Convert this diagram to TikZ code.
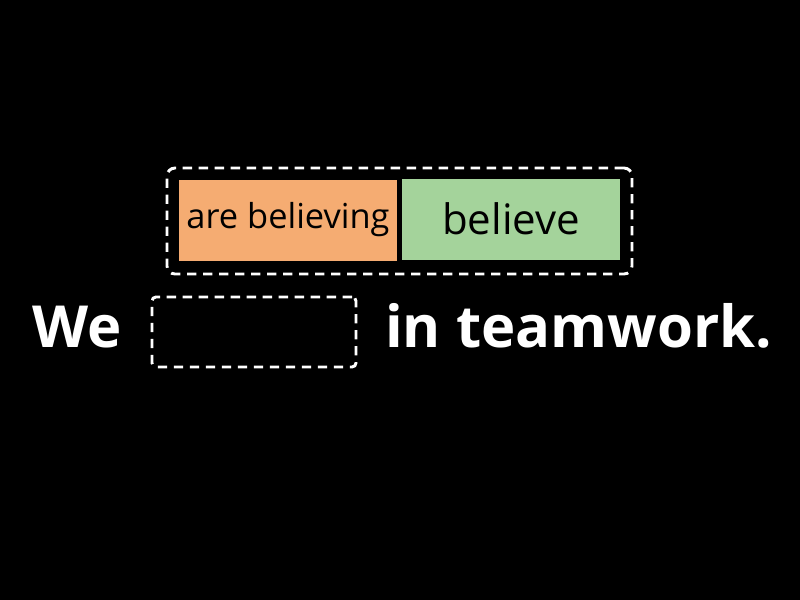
\documentclass[tikz,border=0pt]{standalone}
\usepackage{fontspec}
\setmainfont{Open Sans}
\usetikzlibrary{positioning}

\begin{document}
\begin{tikzpicture}[x=0.75pt, y=-0.75pt]
	% Define styles
	\tikzset{
		card/.style={rectangle, inner sep=0pt, minimum width=163.5pt, minimum height=60.75pt, text=black},
		frame/.style={draw=white, line width=2.2pt, dash pattern=on 7pt off 5pt, rounded corners=6pt, minimum width=348.75pt, minimum height=79.5pt},
		gap/.style={draw=white, line width=2.2pt, dash pattern=on 7pt off 5pt, rounded corners=3pt, minimum width=153pt, minimum height=52.5pt},
		words/.style={text=white, font=\fontsize{43.5}{50}\selectfont\bfseries, inner sep=0pt}
	}
	\definecolor{cardorange}{HTML}{F5AC72}
	\definecolor{cardgreen}{HTML}{A4D39B}

	% Background
	\fill[black] (0,0) rectangle (800,600);
	\useasboundingbox (0,0) rectangle (800,600);

	% Nodes
	\node[frame] (tray) at (399.5,221) {};
	\node[card, fill=cardorange, font=\fontsize{25.8}{30}\selectfont] (c1) at (288,220) {are believing};
	\node[card, fill=cardgreen, font=\fontsize{31.5}{36}\selectfont] (c2) at (511,219) {believe};

	\node[words, anchor=base west] (we) at (32,347) {We};
	\node[gap] (blank) at (254,332) {};
	\node[words, anchor=base west] (rest) at (385,347) {in teamwork.};
\end{tikzpicture}
\end{document}
